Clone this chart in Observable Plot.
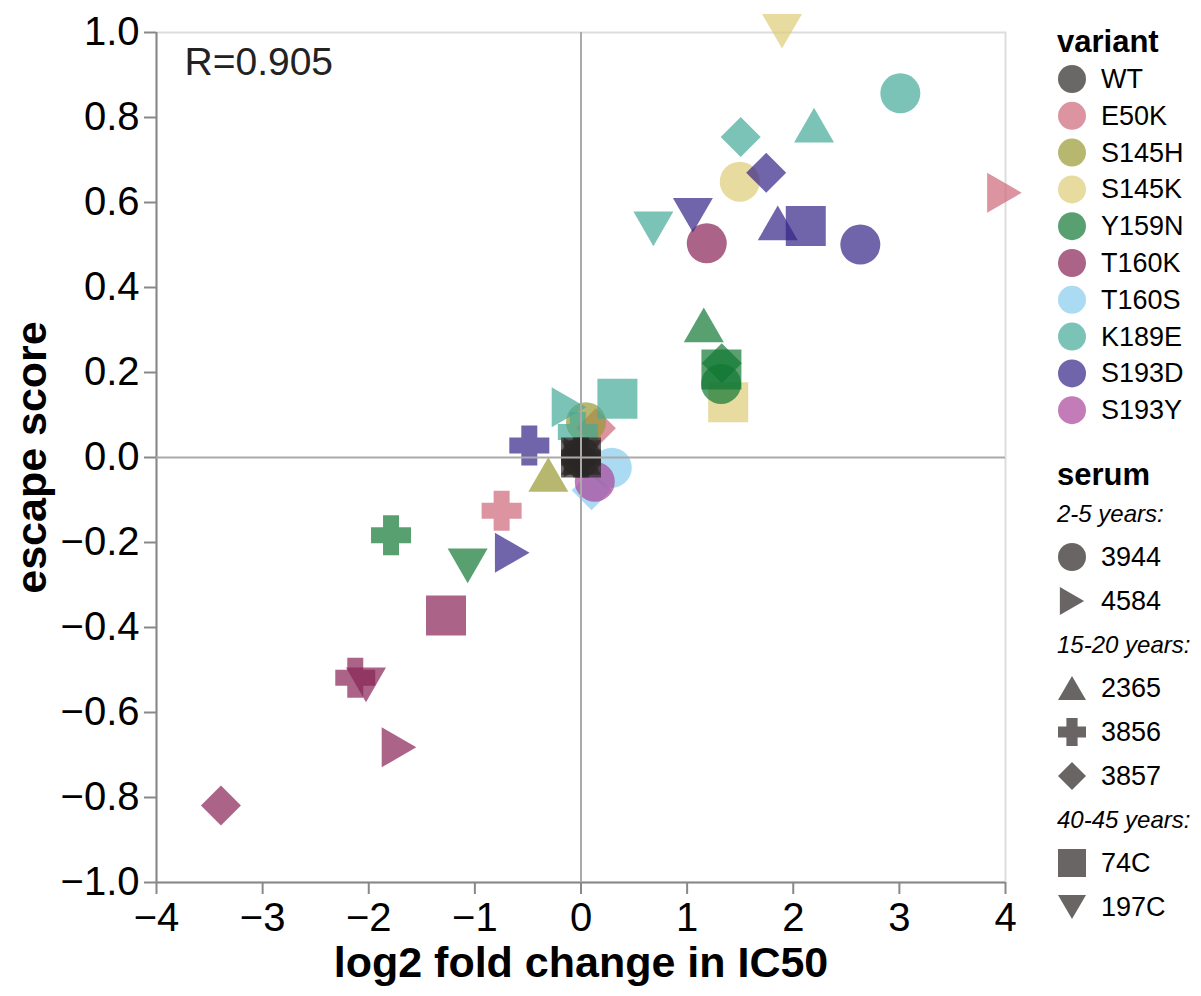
<!DOCTYPE html>
<html><head><meta charset="utf-8">
<script src="https://cdn.jsdelivr.net/npm/d3@7"></script>
<script src="https://cdn.jsdelivr.net/npm/@observablehq/plot@0.6"></script>
<style>
body{margin:0;background:#fff;}
#wrap{position:relative;width:1201px;height:996px;}
#wrap svg{overflow:visible;}
g[aria-label="x-axis tick label"], g[aria-label="y-axis tick label"]{fill:#000;}
</style></head><body><div id="wrap"></div>
<script>
const FONT = '"Liberation Sans", Arial, Helvetica, sans-serif';

// ---- data ----
const variants = ["WT","E50K","S145H","S145K","Y159N","T160K","T160S","K189E","S193D","S193Y"];
const variantColors = ["#2b2727","#CC6677","#999933","#DDCC77","#117733","#882255","#88CCEE","#44AA99","#332288","#AA4499"];
const sera = ["3944","4584","2365","3856","3857","74C","197C"];
const serumGroups = ["2-5 years:","15-20 years:","40-45 years:"];
const serumGroupMembers = [["3944","4584"],["2365","3856","3857"],["74C","197C"]];
const xTicks = [-4,-3,-2,-1,0,1,2,3,4];
const yTicks = [-1,-0.8,-0.6,-0.4,-0.2,0,0.2,0.4,0.6,0.8,1];
const xLabel = "log2 fold change in IC50";
const yLabel = "escape score";
const rLabel = "R=0.905";

const ptVariant = [
  "E50K","E50K","E50K",
  "S145H","S145H",
  "S145K","S145K","S145K",
  "Y159N","Y159N","Y159N","Y159N","Y159N","Y159N",
  "T160K","T160K","T160K","T160K","T160K","T160K",
  "T160S","T160S",
  "K189E","K189E","K189E","K189E","K189E","K189E","K189E",
  "S193D","S193D","S193D","S193D","S193D","S193D","S193D",
  "S193Y",
  "WT","WT","WT","WT","WT","WT","WT"
];
const ptSerum = [
  "4584","3856","3857",
  "3944","2365",
  "197C","3944","74C",
  "2365","74C","3857","3944","3856","197C",
  "3944","74C","3856","197C","4584","3857",
  "3944","3857",
  "3944","2365","3857","197C","74C","4584","3856",
  "3857","197C","2365","74C","3944","3856","4584",
  "3944",
  "3944","4584","2365","3856","3857","74C","197C"
];
const ptX = [
  3.99,-0.748,0.14,
  0.047,-0.308,
  1.894,1.496,1.387,
  1.157,1.323,1.326,1.32,-1.79,-1.068,
  1.185,-1.272,-2.127,-2.026,-1.715,-3.393,
  0.29,0.10,
  3.009,2.196,1.505,0.682,0.343,-0.113,-0.03,
  1.745,1.054,1.854,2.118,2.632,-0.487,-0.648,
  0.13,
  0,0,0,0,0,0,0
];
const ptY = [
  0.623,-0.125,0.069,
  0.083,-0.040,
  1.003,0.649,0.130,
  0.312,0.207,0.222,0.173,-0.183,-0.255,
  0.504,-0.372,-0.518,-0.535,-0.682,-0.819,
  -0.024,-0.077,
  0.857,0.782,0.754,0.538,0.138,0.118,0.06,
  0.670,0.570,0.552,0.545,0.501,0.028,-0.224,
  -0.057,
  0,0,0,0,0,0,0
];

// ---- vega-like symbols ----
const SQ3 = Math.sqrt(3) / 2;
const symCircle = {draw(c, s){ const r = Math.sqrt(s/Math.PI); c.moveTo(r,0); c.arc(0,0,r,0,2*Math.PI); c.closePath(); }};
const symSquare = {draw(c, s){ const r = Math.sqrt(s/Math.PI); c.moveTo(-r,-r); c.lineTo(r,-r); c.lineTo(r,r); c.lineTo(-r,r); c.closePath(); }};
const symDiamond = {draw(c, s){ const r = Math.sqrt(s/Math.PI); c.moveTo(-r,0); c.lineTo(0,-r); c.lineTo(r,0); c.lineTo(0,r); c.closePath(); }};
const symCross = {draw(c, s){ const r = Math.sqrt(s/Math.PI), a = r/2.5;
  c.moveTo(-r,-a); c.lineTo(-a,-a); c.lineTo(-a,-r); c.lineTo(a,-r); c.lineTo(a,-a); c.lineTo(r,-a);
  c.lineTo(r,a); c.lineTo(a,a); c.lineTo(a,r); c.lineTo(-a,r); c.lineTo(-a,a); c.lineTo(-r,a); c.closePath(); }};
const symUp = {draw(c, s){ const r = Math.sqrt(s/Math.PI), h = r*SQ3; c.moveTo(0,-h); c.lineTo(-r,h); c.lineTo(r,h); c.closePath(); }};
const symDown = {draw(c, s){ const r = Math.sqrt(s/Math.PI), h = r*SQ3; c.moveTo(0,h); c.lineTo(-r,-h); c.lineTo(r,-h); c.closePath(); }};
const symRight = {draw(c, s){ const r = Math.sqrt(s/Math.PI), h = r*SQ3; c.moveTo(h,0); c.lineTo(-h,-r); c.lineTo(-h,r); c.closePath(); }};
const serumSymbols = [symCircle, symRight, symUp, symCross, symDiamond, symSquare, symDown];

const data = ptX.map((x, i) => ({variant: ptVariant[i], serum: ptSerum[i], x, y: ptY[i]}));

const plot = Plot.plot({
  width: 1201, height: 996,
  marginLeft: 156, marginRight: 196, marginTop: 32, marginBottom: 114,
  style: {fontFamily: FONT, background: "white", overflow: "visible"},
  x: {domain: [-4, 4], label: null},
  y: {domain: [-1, 1], label: null},
  color: {domain: variants, range: variantColors},
  symbol: {domain: sera, range: serumSymbols},
  marks: [
    Plot.frame({stroke: "#ddd", strokeWidth: 2}),
    Plot.ruleX([-4], {stroke: "#888", strokeWidth: 2}),
    Plot.ruleY([-1], {stroke: "#888", strokeWidth: 2}),
    Plot.axisX({ticks: xTicks, tickSize: 12, tickPadding: 8, fontSize: 40, color: "#888", strokeWidth: 2, label: null}),
    Plot.axisY({ticks: yTicks, tickSize: 12, tickPadding: 5, fontSize: 40, color: "#888", strokeWidth: 2, label: null, tickFormat: d3.format(".1f")}),
    Plot.dot(data, {x: "x", y: "y", fill: "variant", symbol: "serum", r: 20, fillOpacity: 0.7, stroke: "none"}),
    Plot.ruleX([0], {stroke: "#aaa", strokeWidth: 2}),
    Plot.ruleY([0], {stroke: "#aaa", strokeWidth: 2}),
    Plot.text([rLabel], {frameAnchor: "top-left", dx: 28, dy: 15, textAnchor: "start", lineAnchor: "top", fontSize: 39, fill: "#222"}),
    Plot.text([xLabel], {frameAnchor: "bottom", dy: 94, fontSize: 43, fontWeight: "bold", fill: "#000"}),
    Plot.text([yLabel], {frameAnchor: "left", dx: -124, rotate: -90, textAnchor: "middle", fontSize: 43, fontWeight: "bold", fill: "#000"})
  ]
});
document.getElementById("wrap").appendChild(plot);

// ---- legend (drawn into the same svg, right side) ----
const svg = d3.select(plot);
const lg = svg.append("g").attr("font-family", FONT).attr("fill", "#000").attr("text-anchor", "start");
lg.append("text").attr("x", 1057).attr("y", 52).attr("font-size", 31).attr("font-weight", "bold").text("variant");
variants.forEach((v, i) => {
  const cy = 79 + 36.8 * i;
  lg.append("circle").attr("cx", 1072).attr("cy", cy).attr("r", 14).attr("fill", variantColors[i]).attr("fill-opacity", 0.7);
  lg.append("text").attr("x", 1101).attr("y", cy + 9).attr("font-size", 27).text(v);
});
lg.append("text").attr("x", 1057).attr("y", 485).attr("font-size", 31).attr("font-weight", "bold").text("serum");
let yy = 514;
serumGroups.forEach((g, gi) => {
  lg.append("text").attr("x", 1057).attr("y", yy + 8).attr("font-size", 24).attr("font-style", "italic").text(g);
  yy += 43;
  serumGroupMembers[gi].forEach(s => {
    const p = d3.path();
    serumSymbols[sera.indexOf(s)].draw(p, 14 * 14 * Math.PI);
    lg.append("path").attr("d", p.toString()).attr("transform", `translate(1072,${yy})`).attr("fill", "#2a2424").attr("fill-opacity", 0.7);
    lg.append("text").attr("x", 1101).attr("y", yy + 9).attr("font-size", 27).text(s);
    yy += 44;
  });
});
</script></body></html>
